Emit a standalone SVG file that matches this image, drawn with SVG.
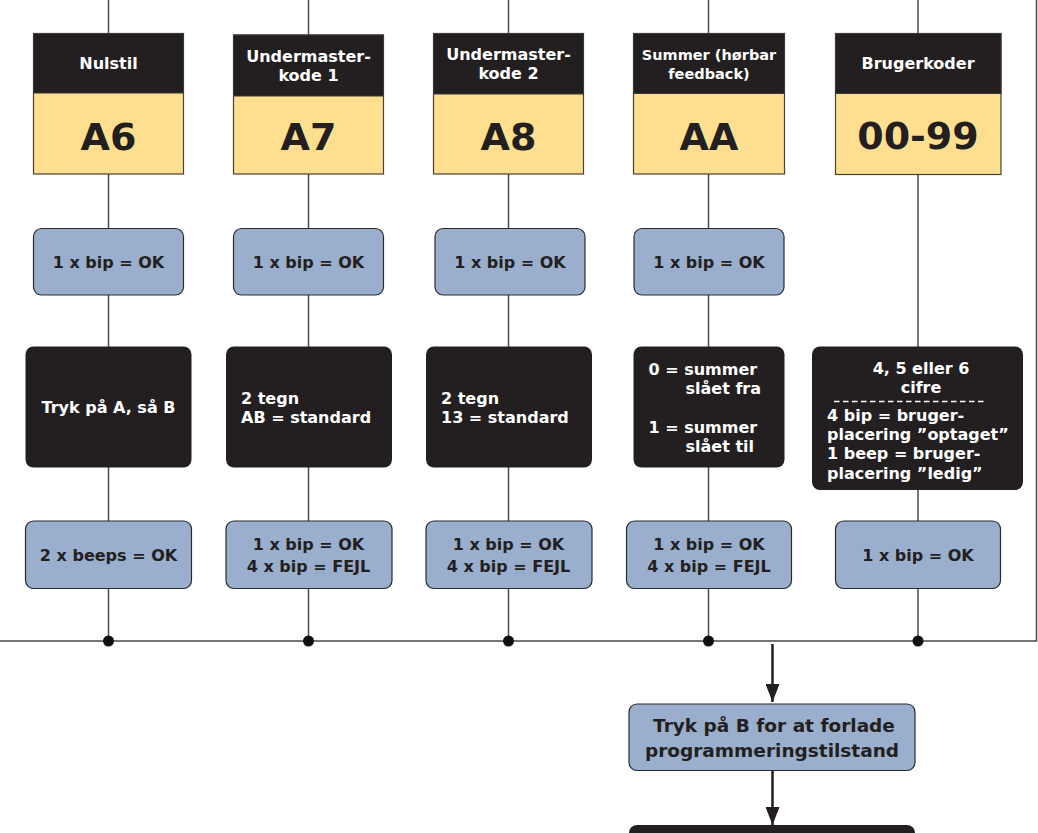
<svg xmlns="http://www.w3.org/2000/svg" width="1038" height="833" viewBox="0 0 1038 833">
<defs>
<style>
.t{font-family:"DejaVu Sans","Verdana",sans-serif;font-weight:bold}
.w{fill:#ffffff}
.d{fill:#231f20}
.s{font-size:16px}
.big{font-size:38px}
.hd{fill:#231f20;stroke:#3a3a3a;stroke-width:1}
.yl{fill:#fddf8f;stroke:#4a4033;stroke-width:1.2}
.bl{fill:#9aaecd;stroke:#2a2a2a;stroke-width:1.2}
.bk{fill:#231f20}
.ln{stroke:#4a4a4a;stroke-width:1.5;fill:none}
.ar{stroke:#231f20;stroke-width:2.5;fill:none}
</style>
<marker id="ah" markerWidth="18" markerHeight="14" refX="18" refY="7" orient="auto" markerUnits="userSpaceOnUse" viewBox="0 0 18 14">
<path d="M0,0 L18,7 L0,14 Z" fill="#231f20"/>
</marker>
</defs>
<rect width="1038" height="833" fill="#ffffff"/>
<g id="connectors">
<line class="ln" x1="108.5" y1="0" x2="108.5" y2="641"/>
<line class="ln" x1="308.5" y1="0" x2="308.5" y2="641"/>
<line class="ln" x1="508.5" y1="0" x2="508.5" y2="641"/>
<line class="ln" x1="708.5" y1="0" x2="708.5" y2="641"/>
<line class="ln" x1="918" y1="0" x2="918" y2="641"/>
<polyline class="ln" points="0,641 1036.5,641 1036.5,0"/>
<circle cx="108.5" cy="641" r="5.5" fill="#111"/>
<circle cx="308.5" cy="641" r="5.5" fill="#111"/>
<circle cx="508.5" cy="641" r="5.5" fill="#111"/>
<circle cx="708.5" cy="641" r="5.5" fill="#111"/>
<circle cx="918" cy="641" r="5.5" fill="#111"/>
<line class="ar" x1="772.5" y1="644" x2="772.5" y2="702" marker-end="url(#ah)"/>
<line class="ar" x1="772.5" y1="771" x2="772.5" y2="825" marker-end="url(#ah)"/>
</g>
<g id="h1">
<rect class="yl" x="33.5" y="33.5" width="150" height="140.5"/>
<rect class="hd" x="33.5" y="33.5" width="150" height="59.5"/>
<text class="t w s" x="108.5" y="69" text-anchor="middle">Nulstil</text>
<text class="t d big" x="108.5" y="150" text-anchor="middle">A6</text>
</g>
<g id="h2">
<rect class="yl" x="233.5" y="35" width="150" height="139"/>
<rect class="hd" x="233.5" y="35" width="150" height="61"/>
<text class="t w s" x="308.5" y="62" text-anchor="middle">Undermaster-</text>
<text class="t w s" x="308.5" y="81" text-anchor="middle">kode 1</text>
<text class="t d big" x="308.5" y="150" text-anchor="middle">A7</text>
</g>
<g id="h3">
<rect class="yl" x="433.5" y="33.5" width="150" height="140.5"/>
<rect class="hd" x="433.5" y="33.5" width="150" height="60.5"/>
<text class="t w s" x="508.5" y="60" text-anchor="middle">Undermaster-</text>
<text class="t w s" x="508.5" y="79" text-anchor="middle">kode 2</text>
<text class="t d big" x="508.5" y="150" text-anchor="middle">A8</text>
</g>
<g id="h4">
<rect class="yl" x="633.5" y="33.5" width="151" height="140.5"/>
<rect class="hd" x="633.5" y="33.5" width="151" height="60"/>
<text class="t w" font-size="14.5" x="709" y="60" text-anchor="middle">Summer (hørbar</text>
<text class="t w" font-size="14.5" x="709" y="78.5" text-anchor="middle">feedback)</text>
<text class="t d big" x="709" y="150" text-anchor="middle">AA</text>
</g>
<g id="h5">
<rect class="yl" x="835.5" y="33.5" width="165.5" height="141"/>
<rect class="hd" x="835.5" y="33.5" width="165.5" height="60"/>
<text class="t w s" x="918" y="69" text-anchor="middle">Brugerkoder</text>
<text class="t d big" x="918" y="149" text-anchor="middle">00-99</text>
</g>
<g id="b1"><rect class="bl" x="33.5" y="228.5" width="150" height="66.5" rx="8"/><text class="t d s" x="108.5" y="268" text-anchor="middle">1 x bip = OK</text></g>
<g id="b2"><rect class="bl" x="233.5" y="228.5" width="150" height="66.5" rx="8"/><text class="t d s" x="308.5" y="268" text-anchor="middle">1 x bip = OK</text></g>
<g id="b3"><rect class="bl" x="435" y="228.5" width="150" height="66.5" rx="8"/><text class="t d s" x="510" y="268" text-anchor="middle">1 x bip = OK</text></g>
<g id="b4"><rect class="bl" x="634" y="228.5" width="150" height="66.5" rx="8"/><text class="t d s" x="709" y="268" text-anchor="middle">1 x bip = OK</text></g>
<g id="k1"><rect class="bk" x="25.5" y="346.5" width="166" height="121" rx="8"/><text class="t w s" x="108.5" y="413" text-anchor="middle">Tryk på A, så B</text></g>
<g id="k2"><rect class="bk" x="226" y="346.5" width="166" height="121" rx="8"/><text class="t w s" x="241" y="404">2 tegn</text><text class="t w s" x="241" y="422.5">AB = standard</text></g>
<g id="k3"><rect class="bk" x="426" y="346.5" width="166" height="121" rx="8"/><text class="t w s" x="441" y="404">2 tegn</text><text class="t w s" x="441" y="422.5">13 = standard</text></g>
<g id="k4"><rect class="bk" x="633.5" y="346.5" width="151" height="121" rx="8"/>
<text class="t w s" x="648.5" y="375">0 = summer</text>
<text class="t w s" x="685.5" y="394">slået fra</text>
<text class="t w s" x="648.5" y="433">1 = summer</text>
<text class="t w s" x="685.5" y="452">slået til</text></g>
<g id="k5"><rect class="bk" x="812" y="346.5" width="211" height="143.5" rx="8"/>
<text class="t w s" x="921" y="374" text-anchor="middle">4, 5 eller 6</text>
<text class="t w s" x="921" y="393" text-anchor="middle">cifre</text>
<line x1="834" y1="401.5" x2="986" y2="401.5" stroke="#ffffff" stroke-width="1.3" stroke-dasharray="5.5,3.5"/>
<text class="t w s" x="827" y="420.5">4 bip = bruger-</text>
<text class="t w s" x="827" y="440">placering ”optaget”</text>
<text class="t w s" x="827" y="459">1 beep = bruger-</text>
<text class="t w s" x="827" y="478.5">placering ”ledig”</text></g>
<g id="c1"><rect class="bl" x="25.5" y="521" width="166" height="67.5" rx="8"/><text class="t d s" x="108.5" y="561" text-anchor="middle">2 x beeps = OK</text></g>
<g id="c2"><rect class="bl" x="226" y="521" width="166" height="67.5" rx="8"/><text class="t d s" x="308.5" y="550" text-anchor="middle">1 x bip = OK</text><text class="t d s" x="308.5" y="572" text-anchor="middle">4 x bip = FEJL</text></g>
<g id="c3"><rect class="bl" x="426" y="521" width="166" height="67.5" rx="8"/><text class="t d s" x="508.5" y="550" text-anchor="middle">1 x bip = OK</text><text class="t d s" x="508.5" y="572" text-anchor="middle">4 x bip = FEJL</text></g>
<g id="c4"><rect class="bl" x="626.5" y="521" width="165" height="67.5" rx="8"/><text class="t d s" x="709" y="550" text-anchor="middle">1 x bip = OK</text><text class="t d s" x="709" y="572" text-anchor="middle">4 x bip = FEJL</text></g>
<g id="c5"><rect class="bl" x="835.5" y="521" width="165" height="67.5" rx="8"/><text class="t d s" x="918" y="561" text-anchor="middle">1 x bip = OK</text></g>
<g id="exit"><rect class="bl" x="629" y="704" width="286" height="66.5" rx="8"/>
<text class="t d" font-size="18.5" x="774" y="732" text-anchor="middle">Tryk på B for at forlade</text>
<text class="t d" font-size="18.5" x="772" y="756.5" text-anchor="middle">programmeringstilstand</text></g>
<g id="end"><rect class="bk" x="629" y="825" width="286" height="40" rx="8"/></g>
</svg>
